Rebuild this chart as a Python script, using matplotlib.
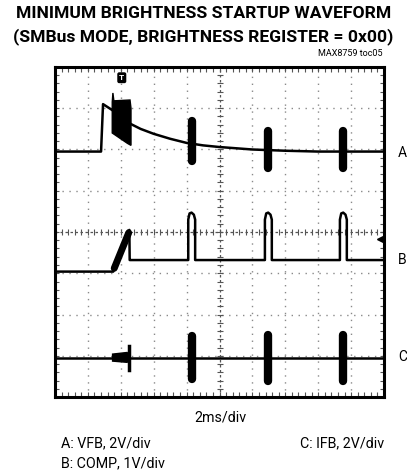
import numpy as np
import matplotlib
matplotlib.use("Agg")
import matplotlib.pyplot as plt

# ---------------- data (in scope divisions: x 0..10, y 0..8) ----------------
# Trace A: VFB
A_x = [0, 1.40, 1.46, 1.75, 2.30, 2.6, 3.0, 3.5, 4.0, 4.5, 5.0, 5.5, 6.0, 7.0, 8.0, 10]
A_y = [5.95, 5.95, 7.10, 6.95, 6.62, 6.50, 6.38, 6.26, 6.16, 6.10, 6.06, 6.03, 6.00, 5.97, 5.95, 5.95]
A_start_burst_x = [1.74, 1.74, 1.76, 1.79, 2.28, 2.31, 2.31, 2.20, 1.74]
A_start_burst_y = [6.40, 7.15, 7.37, 7.18, 7.20, 7.00, 6.10, 6.15, 6.40]
A_burst_x = [4.15, 6.46, 8.74]
A_burst_lo = [5.62, 5.45, 5.45]
A_burst_hi = [6.80, 6.55, 6.55]

# Trace B: COMP
B_x = [0, 1.77, 2.26, 2.27, 2.28,
       4.05, 4.05, 4.09, 4.15, 4.22, 4.26, 4.26,
       6.38, 6.38, 6.42, 6.48, 6.55, 6.59, 6.59,
       8.66, 8.66, 8.70, 8.76, 8.83, 8.87, 8.87, 10]
B_y = [3.04, 3.04, 4.05, 3.32, 3.32,
       3.32, 4.30, 4.45, 4.47, 4.42, 4.30, 3.32,
       3.32, 4.30, 4.45, 4.47, 4.42, 4.30, 3.32,
       3.32, 4.30, 4.45, 4.47, 4.42, 4.30, 3.32, 3.32]
B_ramp_x = [1.80, 2.24]
B_ramp_y = [3.12, 3.98]

# Trace C: IFB
C_x = [0, 10]
C_y = [0.95, 0.95]
C_start_burst_x = [1.75, 1.75, 2.20, 2.20]
C_start_burst_y = [0.87, 1.04, 1.08, 0.84]
C_spike_x = [2.25, 2.25]
C_spike_y = [0.66, 1.23]
C_burst_x = [4.15, 6.46, 8.74]
C_burst_lo = [0.34, 0.30, 0.30]
C_burst_hi = [1.58, 1.60, 1.60]

title1 = "MINIMUM BRIGHTNESS STARTUP WAVEFORM"
title2 = "(SMBus MODE, BRIGHTNESS REGISTER = 0x00)"
tag = "MAX8759 toc05"
xscale_label = "2ms/div"
legend_A = "A: VFB, 2V/div"
legend_B = "B: COMP, 1V/div"
legend_C = "C: IFB, 2V/div"
channel_labels = ["A", "B", "C"]
channel_label_ypx = [153, 260, 357]

# ---------------- figure ----------------
W, H = 407, 474
fig = plt.figure(figsize=(W / 100, H / 100), dpi=100)
fig.patch.set_facecolor("white")
FONT = ["Roboto", "Liberation Sans", "DejaVu Sans"]

L, R, T, B = 55, 384, 67, 397
ax = fig.add_axes([L / W, 1 - B / H, (R - L) / W, (B - T) / H])
ax.set_xlim(0, 10)
ax.set_ylim(0, 8)
ax.set_xticks([])
ax.set_yticks([])
for s in ax.spines.values():
    s.set_linewidth(2.2)
    s.set_color("black")

# grid
gcol = "#8a8a8a"
for gx in range(1, 10):
    if gx == 5:
        continue
    ax.axvline(gx, color=gcol, lw=1.0, ls=(0, (1, 4)), zorder=1)
for gy in range(1, 8):
    if gy == 4:
        continue
    ax.axhline(gy, color=gcol, lw=1.0, ls=(0, (1, 4)), zorder=1)
ax.axvline(5, color="#555555", lw=0.9, ls=(0, (2, 2)), zorder=1)
ax.axhline(4, color="#555555", lw=0.9, ls=(0, (2, 2)), zorder=1)
mt_y = np.arange(0.2, 8, 0.2)
mt_x = np.arange(0.2, 10, 0.2)
ax.plot(np.full_like(mt_y, 5), mt_y, ls="none", marker="_", ms=5, mew=0.8, color="#555555", zorder=1)
ax.plot(mt_x, np.full_like(mt_x, 4), ls="none", marker="|", ms=5, mew=0.8, color="#555555", zorder=1)
ax.plot(np.full_like(mt_y, 9.97), mt_y, ls="none", marker="_", ms=4, mew=0.8, color="#555555", zorder=1)
ax.plot(np.full_like(mt_y, 0.03), mt_y, ls="none", marker="_", ms=4, mew=0.8, color="#555555", zorder=1)
ax.plot(mt_x, np.full_like(mt_x, 0.04), ls="none", marker="|", ms=4, mew=0.8, color="#555555", zorder=1)
ax.plot(mt_x, np.full_like(mt_x, 7.96), ls="none", marker="|", ms=4, mew=0.8, color="#555555", zorder=1)

lw = 1.8
# trace A
ax.plot(A_x, A_y, color="black", lw=lw, zorder=3)
ax.fill(A_start_burst_x, A_start_burst_y, color="black", zorder=3)
for x, lo, hi in zip(A_burst_x, A_burst_lo, A_burst_hi):
    ax.plot([x, x], [lo + 0.1, hi - 0.1], color="black", lw=6, solid_capstyle="round", zorder=3)
# trace B
ax.plot(B_x, B_y, color="black", lw=lw, zorder=3)
ax.plot(B_ramp_x, B_ramp_y, color="black", lw=5, solid_capstyle="round", zorder=3)
# trace C
ax.plot(C_x, C_y, color="black", lw=lw, zorder=3)
ax.fill(C_start_burst_x, C_start_burst_y, color="black", zorder=3)
ax.plot(C_spike_x, C_spike_y, color="black", lw=2.5, zorder=3)
for x, lo, hi in zip(C_burst_x, C_burst_lo, C_burst_hi):
    ax.plot([x, x], [lo + 0.1, hi - 0.1], color="black", lw=6, solid_capstyle="round", zorder=3)

# trigger marker and B ground marker
ax.text(2.03, 7.74, "T", color="white", fontsize=6, fontweight="bold", ha="center", va="center",
        family=FONT, bbox=dict(boxstyle="round,pad=0.15", fc="black", ec="black"), zorder=4)
ax.plot([9.88], [3.83], marker="<", ms=4, color="black", ls="none", zorder=4)

# ---------------- text ----------------
def fy(px):
    return 1 - px / H

fig.text(0.5, fy(14), title1, ha="center", va="center", fontsize=12.6, fontweight="bold",
         family=FONT)
fig.text(0.5, fy(37), title2, ha="center", va="center", fontsize=12.6, fontweight="bold",
         family=FONT)
fig.text(383 / W, fy(54), tag, ha="right", va="center", fontsize=6.5, family=FONT)

for lab, ypx in zip(channel_labels, channel_label_ypx):
    fig.text(398 / W, fy(ypx), lab, ha="left", va="center", fontsize=10, family=FONT)

fig.text(220 / W, fy(417), xscale_label, ha="center", va="center", fontsize=10.3, family=FONT)
fig.text(61 / W, fy(443), legend_A, ha="left", va="center", fontsize=10.3, family=FONT)
fig.text(61 / W, fy(463), legend_B, ha="left", va="center", fontsize=10.3, family=FONT)
fig.text(300 / W, fy(443), legend_C, ha="left", va="center", fontsize=10.3, family=FONT)

fig.savefig("out.png", dpi=100, facecolor="white")
